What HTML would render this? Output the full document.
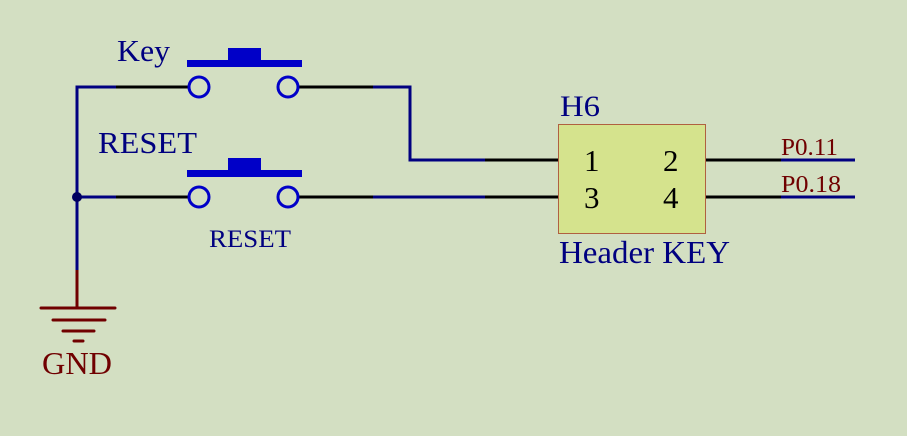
<!DOCTYPE html>
<html><head><style>
html,body{margin:0;padding:0;background:#d3dfc2;}
svg{display:block;}
text{font-family:"Liberation Serif",serif;}
</style></head><body>
<svg width="907" height="436" viewBox="0 0 907 436" xmlns="http://www.w3.org/2000/svg">
<rect width="907" height="436" fill="#d3dfc2"/>
<polyline points="116,87 77,87 77,272" fill="none" stroke="#000080" stroke-width="3"/>
<line x1="77" y1="197" x2="116" y2="197" stroke="#000080" stroke-width="3"/>
<line x1="77" y1="270" x2="77" y2="308" stroke="#700000" stroke-width="3"/>
<circle cx="77" cy="197" r="5" fill="#000060"/>
<g stroke="#700000" stroke-width="3" stroke-linecap="round">
<line x1="41" y1="308" x2="115" y2="308"/>
<line x1="53" y1="320" x2="105" y2="320"/>
<line x1="63" y1="331" x2="94" y2="331"/>
<line x1="74" y1="341" x2="83" y2="341"/>
</g>
<text x="42" y="374" font-size="32" fill="#700000" textLength="70" lengthAdjust="spacingAndGlyphs">GND</text>
<g stroke="#000" stroke-width="3">
<line x1="116" y1="87" x2="188" y2="87"/>
<line x1="116" y1="197" x2="188" y2="197"/>
<line x1="299" y1="87" x2="374" y2="87"/>
<line x1="299" y1="197" x2="374" y2="197"/>
<line x1="484" y1="160" x2="558" y2="160"/>
<line x1="484" y1="197" x2="558" y2="197"/>
<line x1="706" y1="160" x2="782" y2="160"/>
<line x1="706" y1="197" x2="782" y2="197"/>
</g>
<g stroke="#000080" stroke-width="3" fill="none">
<polyline points="373,87 410,87 410,160 485,160"/>
<line x1="373" y1="197" x2="485" y2="197"/>
<line x1="781" y1="160" x2="855" y2="160"/>
<line x1="781" y1="197" x2="855" y2="197"/>
</g>
<g fill="#0000c8">
<rect x="187" y="60" width="115" height="7"/><rect x="228" y="48" width="33" height="13"/>
<rect x="187" y="170" width="115" height="7"/><rect x="228" y="158" width="33" height="13"/>
</g>
<g fill="none" stroke="#0000c8" stroke-width="3">
<circle cx="199" cy="87" r="10"/><circle cx="288" cy="87" r="10"/>
<circle cx="199" cy="197" r="10"/><circle cx="288" cy="197" r="10"/>
</g>
<text x="117" y="61" font-size="31" fill="#000080" textLength="53" lengthAdjust="spacingAndGlyphs">Key</text>
<text x="98" y="153" font-size="31" fill="#000080" textLength="99" lengthAdjust="spacingAndGlyphs">RESET</text>
<text x="209" y="247" font-size="25" fill="#000080" textLength="82" lengthAdjust="spacingAndGlyphs">RESET</text>
<rect x="558.5" y="124.5" width="147" height="109" fill="#d5e38d" stroke="#b06040" stroke-width="1"/>
<text x="560" y="116" font-size="30" fill="#000080" textLength="40" lengthAdjust="spacingAndGlyphs">H6</text>
<text x="559" y="263" font-size="32" fill="#000080" textLength="171" lengthAdjust="spacingAndGlyphs">Header KEY</text>
<g font-size="31" fill="#000">
<text x="584" y="171">1</text><text x="663" y="171">2</text>
<text x="584" y="208">3</text><text x="663" y="208">4</text>
</g>
<text x="781" y="155" font-size="24" fill="#700000" textLength="57" lengthAdjust="spacingAndGlyphs">P0.11</text>
<text x="781" y="192" font-size="24" fill="#700000" textLength="60" lengthAdjust="spacingAndGlyphs">P0.18</text>
</svg>
</body></html>
